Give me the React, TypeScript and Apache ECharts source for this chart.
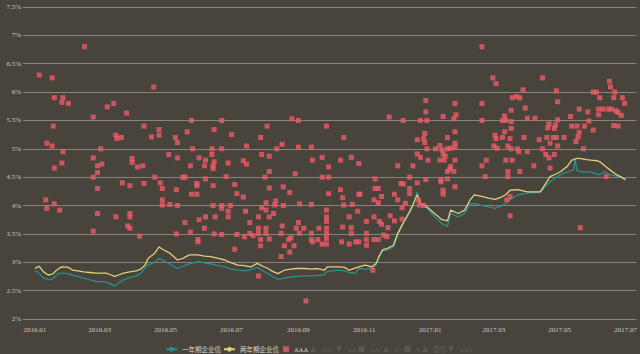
import React, { useEffect, useRef } from "react";
import * as echarts from "echarts";

// x tick labels (month starts, every two months)
const xTickLabels = ["2016-01", "2016-03", "2016-05", "2016-07", "2016-09", "2016-11", "2017-01", "2017-03", "2017-05", "2017-07"];

// line series: days since 2016-01-01
const lineDays = [0, 2, 4, 8, 12, 14, 17, 20, 23, 25,
  31, 35, 40, 45, 51, 57, 62, 66, 70, 74,
  78, 82, 88, 94, 98, 102, 105, 111, 115, 119,
  125, 132, 137, 143, 151, 157, 163, 170, 176, 182,
  188, 194, 200, 206, 211, 216, 220, 225, 231, 237,
  243, 250, 256, 262, 268, 271, 276, 282, 287, 291,
  297, 300, 306, 312, 316, 319, 322, 327, 332, 336,
  340, 346, 350, 354, 357, 363, 370, 377, 382, 385,
  392, 398, 403, 407, 414, 420, 426, 432, 436, 440,
  447, 456, 463, 468, 471, 477, 483, 487, 490, 493,
  497, 499, 500, 502, 504, 511, 515, 521, 524, 527,
  533, 539, 543, 547];

const twoYearYield = [2.89, 2.91, 2.93, 2.83, 2.78, 2.78, 2.80, 2.86, 2.90, 2.92,
  2.91, 2.86, 2.85, 2.83, 2.82, 2.81, 2.81, 2.81, 2.78, 2.75,
  2.78, 2.81, 2.83, 2.85, 2.88, 2.95, 3.07, 3.16, 3.27, 3.22,
  3.16, 3.04, 3.07, 3.13, 3.13, 3.11, 3.10, 3.07, 3.04, 2.99,
  2.95, 2.94, 2.92, 2.98, 2.93, 2.89, 2.84, 2.80, 2.86, 2.88,
  2.89, 2.89, 2.88, 2.89, 2.86, 2.92, 2.92, 2.92, 2.91, 2.86,
  2.90, 2.92, 2.95, 2.92, 2.98, 3.12, 3.22, 3.25, 3.30, 3.51,
  3.66, 3.86, 4.01, 4.19, 4.04, 3.98, 3.86, 3.75, 3.73, 3.92,
  3.86, 3.92, 4.10, 4.19, 4.16, 4.13, 4.11, 4.15, 4.19, 4.27,
  4.28, 4.24, 4.24, 4.24, 4.33, 4.51, 4.56, 4.60, 4.65, 4.69,
  4.80, 4.81, 4.82, 4.83, 4.83, 4.81, 4.80, 4.79, 4.76, 4.71,
  4.62, 4.54, 4.50, 4.46];

const oneYearYield = [2.83, 2.84, 2.80, 2.72, 2.70, 2.69, 2.72, 2.77, 2.81, 2.81,
  2.80, 2.77, 2.75, 2.72, 2.69, 2.66, 2.66, 2.65, 2.62, 2.58,
  2.64, 2.69, 2.73, 2.76, 2.80, 2.90, 2.95, 3.00, 3.07, 3.03,
  2.97, 2.89, 2.93, 2.97, 3.01, 2.99, 2.97, 2.94, 2.92, 2.88,
  2.86, 2.85, 2.87, 2.91, 2.85, 2.80, 2.75, 2.70, 2.72, 2.74,
  2.75, 2.76, 2.76, 2.77, 2.78, 2.84, 2.85, 2.86, 2.85, 2.82,
  2.81, 2.89, 2.88, 2.89, 2.95, 3.10, 3.20, 3.22, 3.27, 3.48,
  3.64, 3.84, 3.98, 4.24, 4.02, 3.96, 3.80, 3.68, 3.63, 3.86,
  3.80, 3.86, 4.03, 4.04, 4.00, 3.98, 3.95, 3.99, 4.04, 4.10,
  4.19, 4.22, 4.23, 4.24, 4.30, 4.42, 4.50, 4.55, 4.57, 4.59,
  4.62, 4.63, 4.83, 4.62, 4.60, 4.59, 4.59, 4.55, 4.55, 4.60,
  4.54, 4.52, 4.50, 4.44];

// AAA issues: [days since 2016-01-01, yield %]
const aaaPoints: [number, number][] = [
  [46, 6.80], [4, 6.30], [16, 6.25], [110, 6.09], [18, 5.90], [26, 5.90], [25, 5.82], [31, 5.80], [67, 5.74], [73, 5.80],
  [85, 5.63], [54, 5.56], [17, 5.40], [101, 5.40], [115, 5.34], [115, 5.24], [108, 5.21], [75, 5.24], [76, 5.18], [80, 5.20],
  [141, 5.30], [130, 5.20], [132, 5.11], [11, 5.10], [16, 5.05], [26, 4.95], [61, 5.00], [54, 4.84], [90, 4.83], [90, 4.76],
  [124, 4.90], [132, 4.84], [18, 4.66], [25, 4.75], [58, 4.70], [62, 4.73], [58, 4.58], [54, 4.50], [95, 4.68], [100, 4.70],
  [58, 4.30], [81, 4.40], [88, 4.35], [101, 4.39], [111, 4.50], [116, 4.40], [118, 4.30], [131, 4.28], [137, 4.50], [139, 4.50],
  [10, 4.10], [18, 4.03], [11, 3.95], [23, 3.92], [118, 4.10], [118, 4.01], [125, 4.02], [132, 4.00], [58, 3.86], [75, 3.80],
  [88, 3.86], [88, 3.80], [86, 3.64], [88, 3.60], [54, 3.55], [97, 3.46], [139, 3.70], [131, 3.50],
  [145, 5.50], [173, 5.50], [166, 5.34], [182, 5.25], [215, 5.40], [238, 5.53], [244, 5.50], [270, 5.40], [209, 5.20], [146, 5.00],
  [164, 5.00], [173, 5.00], [164, 4.90], [196, 5.05], [229, 5.08], [224, 5.00], [244, 5.03], [256, 5.03], [210, 4.90], [217, 4.87],
  [152, 4.84], [158, 4.80], [166, 4.77], [165, 4.70], [165, 4.65], [157, 4.70], [144, 4.70], [179, 4.75], [193, 4.79], [196, 4.73],
  [266, 4.85], [257, 4.80], [283, 4.80], [217, 4.60], [213, 4.50], [241, 4.56], [272, 4.68], [266, 4.50], [272, 4.50], [177, 4.51],
  [158, 4.47], [150, 4.39], [150, 4.35], [165, 4.35], [185, 4.37], [217, 4.31], [230, 4.33], [236, 4.23], [145, 4.20], [150, 4.20],
  [187, 4.21], [193, 4.15], [272, 4.21], [283, 4.28], [223, 4.08], [214, 4.05], [165, 4.00], [173, 4.00], [181, 4.00], [210, 3.96],
  [214, 3.92], [222, 4.01], [230, 4.00], [245, 4.03], [256, 4.02], [173, 3.95], [179, 3.90], [179, 3.80], [195, 3.90], [217, 3.80],
  [221, 3.86], [158, 3.80], [167, 3.80], [152, 3.75], [199, 3.70], [207, 3.80], [270, 3.92], [270, 3.80], [270, 3.72], [157, 3.60],
  [166, 3.50], [173, 3.49], [187, 3.49], [194, 3.45], [199, 3.51], [202, 3.47], [207, 3.51], [207, 3.60], [214, 3.51], [214, 3.60],
  [209, 3.40], [209, 3.29], [217, 3.41], [228, 3.51], [229, 3.64], [237, 3.43], [235, 3.40], [231, 3.29], [240, 3.29], [236, 3.18],
  [228, 3.10], [242, 3.60], [244, 3.70], [249, 3.60], [245, 3.51], [256, 3.51], [256, 3.40], [257, 3.36], [262, 3.40], [263, 3.60],
  [266, 3.32], [270, 3.42], [270, 3.32], [270, 3.51], [270, 3.60], [151, 3.40], [151, 3.36], [185, 3.23], [144, 3.53], [207, 2.76],
  [251, 2.32],
  [414, 6.80], [362, 5.85], [389, 5.80], [414, 5.80], [362, 5.65], [328, 5.56], [341, 5.50], [357, 5.50], [363, 5.50], [378, 5.57],
  [390, 5.60], [388, 5.53], [414, 5.50], [286, 5.20], [389, 5.30], [361, 5.27], [354, 5.16], [360, 5.18], [361, 5.11], [382, 5.20],
  [363, 5.00], [371, 5.00], [375, 5.06], [377, 4.98], [382, 5.00], [385, 5.01], [389, 5.10], [389, 5.03], [354, 4.91], [357, 4.85],
  [364, 4.80], [378, 4.91], [380, 4.87], [375, 4.80], [379, 4.80], [389, 4.80], [293, 4.85], [300, 4.74], [336, 4.70], [350, 4.70],
  [385, 4.69], [384, 4.64], [388, 4.60], [382, 4.60], [414, 4.70], [418, 4.80], [315, 4.47], [347, 4.50], [362, 4.46], [376, 4.46],
  [376, 4.42], [382, 4.47], [417, 4.51], [339, 4.39], [341, 4.38], [354, 4.40], [347, 4.30], [389, 4.33], [315, 4.30], [318, 4.30],
  [378, 4.27], [378, 4.20], [300, 4.20], [301, 4.20], [333, 4.20], [347, 4.21], [285, 4.14], [321, 4.16], [314, 4.10], [318, 4.05],
  [336, 4.10], [343, 4.04], [286, 4.01], [294, 4.02], [355, 4.10], [356, 4.01], [360, 4.00], [299, 3.90], [340, 3.96], [291, 3.80],
  [314, 3.80], [329, 3.82], [333, 3.73], [340, 3.76], [307, 3.72], [319, 3.72], [321, 3.67], [327, 3.61], [285, 3.62], [293, 3.61],
  [293, 3.51], [307, 3.51], [307, 3.40], [314, 3.40], [318, 3.40], [323, 3.48], [326, 3.45], [284, 3.36], [291, 3.32], [297, 3.36],
  [300, 3.36], [307, 3.30], [313, 2.86],
  [424, 6.25], [427, 6.15], [470, 6.25], [452, 6.04], [442, 5.90], [446, 5.92], [449, 5.90], [483, 6.02], [484, 5.83], [454, 5.72],
  [441, 5.68], [435, 5.58], [433, 5.50], [436, 5.50], [441, 5.48], [456, 5.54], [463, 5.54], [441, 5.36], [435, 5.30], [426, 5.24],
  [427, 5.18], [433, 5.20], [440, 5.18], [453, 5.20], [425, 5.05], [428, 5.01], [438, 5.05], [441, 5.00], [447, 5.00], [448, 4.95],
  [456, 4.95], [467, 5.16], [475, 5.37], [476, 5.44], [481, 5.36], [482, 5.42], [484, 5.51], [474, 5.20], [480, 5.20], [483, 5.20],
  [490, 5.20], [477, 5.10], [484, 5.05], [470, 5.00], [473, 4.90], [476, 4.84], [481, 4.90], [436, 4.80], [442, 4.80], [462, 4.70],
  [477, 4.66], [449, 4.60], [438, 4.60], [438, 4.51], [496, 5.57], [504, 5.70], [512, 5.65], [497, 5.40], [502, 5.40], [504, 5.29],
  [503, 5.21], [501, 5.13], [508, 5.00], [509, 5.40], [513, 5.49], [517, 5.33], [517, 6.00], [520, 6.00], [523, 5.90], [522, 5.60],
  [522, 5.70], [526, 5.70], [531, 5.70], [534, 5.70], [538, 5.67], [540, 5.64], [543, 5.59], [536, 5.41], [540, 5.40], [532, 6.19],
  [533, 6.09], [537, 6.00], [536, 5.90], [544, 5.90], [546, 5.80], [529, 4.51], [505, 3.61], [440, 3.82], [440, 4.16], [437, 4.10]
];

const fadedNames = ["AA+", "AA", "AA-", "A+", "A", "国债", "AAA-"];
const fadedSymbols = ["triangle", "path://M0,0L10,0L5,10Z", "rect", "triangle", "rect", "triangle", "path://M0,0L10,0L5,10Z"];

const DAY = 86400000;
const BASE = Date.UTC(2016, 0, 1);
const dayOf = (s: string) => {
  const [y, m] = s.split("-").map(Number);
  return Math.round((Date.UTC(y, m - 1, 1) - BASE) / DAY);
};
const labelOf = (d: number) => {
  const t = new Date(BASE + d * DAY);
  const m = t.getUTCMonth() + 1;
  return `${t.getUTCFullYear()}.${m < 10 ? "0" + m : m}`;
};

export default function App() {
  const ref = useRef<HTMLDivElement>(null);
  useEffect(() => {
    if (!ref.current) return;
    const chart = echarts.init(ref.current, undefined, { renderer: "svg" });
    const ticks = xTickLabels.map(dayOf);
    const font = "'Liberation Serif', 'Noto Sans CJK SC', serif";
    const selected: Record<string, boolean> = {};
    fadedNames.forEach((n) => (selected[n] = false));
    const legendText = { color: "#d8d4cc", fontSize: 6.5, fontFamily: font };
    chart.setOption({
      animation: false,
      backgroundColor: "#48433b",
      grid: { left: 23, right: 3, top: 7, bottom: 35, containLabel: false },
      legend: [
        {
          left: 160,
          top: 341,
          itemWidth: 11,
          itemHeight: 6,
          itemGap: 2,
          textStyle: legendText,
          data: ["一年期企业债", "两年期企业债"],
        },
        {
          left: 278,
          top: 341,
          itemWidth: 6,
          itemHeight: 6,
          itemGap: 2,
          inactiveColor: "#625d55",
          textStyle: legendText,
          data: ["AAA", ...fadedNames],
          selected,
        },
      ],
      xAxis: {
        type: "value",
        min: -11,
        max: 557,
        axisLine: { show: false },
        axisTick: { show: false },
        splitLine: { show: false },
        axisLabel: {
          customValues: ticks,
          color: "#cfcac2",
          fontSize: 7,
          fontFamily: font,
          margin: 7,
          formatter: (v: number) => labelOf(v),
        },
      },
      yAxis: {
        type: "value",
        min: 2,
        max: 7.5,
        interval: 0.5,
        axisLine: { show: false },
        axisTick: { show: false },
        splitLine: { lineStyle: { color: "#88837b", width: 1 } },
        axisLabel: {
          color: "#cfcac2",
          fontSize: 7,
          fontFamily: font,
          margin: 2,
          formatter: (v: number) => `${v}%`,
        },
      },
      series: [
        {
          name: "一年期企业债",
          type: "line",
          data: lineDays.map((d, i) => [d, oneYearYield[i]]),
          symbol: "circle",
          showSymbol: false,
          lineStyle: { color: "#24938d", width: 1.3 },
          itemStyle: { color: "#24938d" },
          z: 2,
        },
        {
          name: "两年期企业债",
          type: "line",
          data: lineDays.map((d, i) => [d, twoYearYield[i]]),
          symbol: "circle",
          showSymbol: false,
          lineStyle: { color: "#e1cf7e", width: 1.3 },
          itemStyle: { color: "#e1cf7e" },
          z: 2,
        },
        {
          name: "AAA",
          type: "scatter",
          symbol: "rect",
          symbolSize: 5,
          data: aaaPoints,
          itemStyle: { color: "#ef5b68" },
          z: 3,
        },
        ...fadedNames.map((n, i) => ({
          name: n,
          type: "scatter",
          symbol: fadedSymbols[i],
          symbolSize: 5,
          data: [],
          itemStyle: { color: "#888" },
        })),
      ],
    });
    return () => chart.dispose();
  }, []);
  return <div ref={ref} style={{ position: "fixed", left: 0, top: 0, width: 640, height: 354 }} />;
}
